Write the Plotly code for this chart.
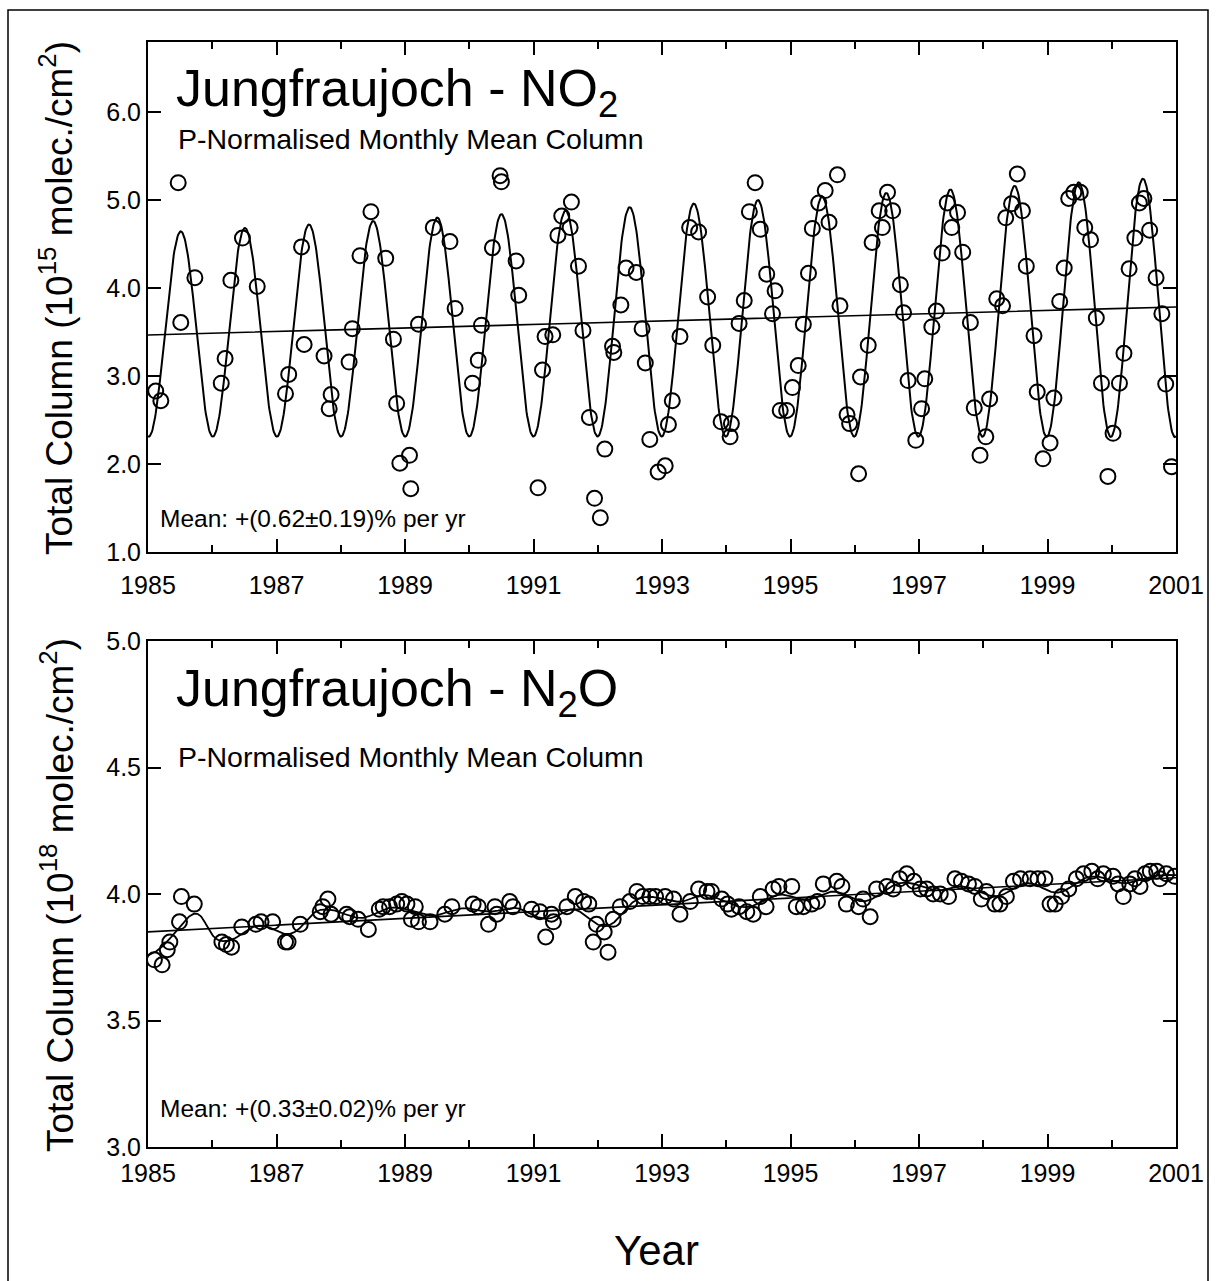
import numpy as np
import plotly.graph_objects as go

# ---------------- data ----------------
no2_year = [1985.12, 1985.20, 1985.47, 1985.51, 1985.73, 1986.14, 1986.20, 1986.29, 1986.47, 1986.70,
            1987.14, 1987.19, 1987.39, 1987.43, 1987.74, 1987.82, 1987.85, 1988.13, 1988.18, 1988.30,
            1988.47, 1988.70, 1988.82, 1988.87, 1988.92, 1989.07, 1989.09, 1989.21, 1989.44, 1989.70,
            1989.78, 1990.05, 1990.14, 1990.19, 1990.36, 1990.48, 1990.50, 1990.73, 1990.77, 1991.07,
            1991.14, 1991.18, 1991.30, 1991.38, 1991.44, 1991.57, 1991.59, 1991.70, 1991.77, 1991.87,
            1991.95, 1992.04, 1992.11, 1992.23, 1992.25, 1992.36, 1992.44, 1992.60, 1992.69, 1992.74,
            1992.81, 1992.94, 1993.05, 1993.10, 1993.16, 1993.28, 1993.43, 1993.57, 1993.71, 1993.79,
            1993.92, 1994.06, 1994.08, 1994.20, 1994.28, 1994.36, 1994.45, 1994.53, 1994.63, 1994.72,
            1994.76, 1994.84, 1994.94, 1995.03, 1995.12, 1995.20, 1995.28, 1995.34, 1995.44, 1995.54,
            1995.60, 1995.73, 1995.77, 1995.88, 1995.92, 1996.06, 1996.09, 1996.21, 1996.27, 1996.38,
            1996.43, 1996.51, 1996.59, 1996.71, 1996.76, 1996.83, 1996.95, 1997.04, 1997.09, 1997.20,
            1997.27, 1997.36, 1997.44, 1997.51, 1997.60, 1997.68, 1997.80, 1997.86, 1997.95, 1998.04,
            1998.10, 1998.21, 1998.30, 1998.35, 1998.44, 1998.53, 1998.61, 1998.67, 1998.79, 1998.84,
            1998.93, 1999.04, 1999.10, 1999.19, 1999.26, 1999.33, 1999.41, 1999.51, 1999.58, 1999.67,
            1999.76, 1999.84, 1999.94, 2000.02, 2000.12, 2000.19, 2000.27, 2000.36, 2000.43, 2000.50,
            2000.59, 2000.69, 2000.78, 2000.84, 2000.93]
no2_val = [2.83, 2.72, 5.20, 3.61, 4.12, 2.92, 3.20, 4.09, 4.57, 4.02,
           2.80, 3.02, 4.47, 3.36, 3.23, 2.63, 2.79, 3.16, 3.54, 4.37,
           4.87, 4.34, 3.42, 2.69, 2.01, 2.10, 1.72, 3.59, 4.69, 4.53,
           3.77, 2.92, 3.18, 3.58, 4.46, 5.28, 5.21, 4.31, 3.92, 1.73,
           3.07, 3.45, 3.47, 4.60, 4.82, 4.69, 4.98, 4.25, 3.52, 2.53,
           1.61, 1.39, 2.17, 3.34, 3.27, 3.81, 4.23, 4.18, 3.54, 3.15,
           2.28, 1.91, 1.98, 2.45, 2.72, 3.45, 4.69, 4.64, 3.90, 3.35,
           2.48, 2.31, 2.46, 3.60, 3.86, 4.87, 5.20, 4.67, 4.16, 3.71,
           3.97, 2.61, 2.61, 2.87, 3.12, 3.59, 4.17, 4.68, 4.97, 5.11,
           4.75, 5.29, 3.80, 2.56, 2.46, 1.89, 2.99, 3.35, 4.52, 4.88,
           4.69, 5.09, 4.88, 4.04, 3.72, 2.95, 2.27, 2.63, 2.97, 3.56,
           3.74, 4.40, 4.97, 4.69, 4.86, 4.41, 3.61, 2.64, 2.10, 2.31,
           2.74, 3.88, 3.80, 4.80, 4.96, 5.30, 4.88, 4.25, 3.46, 2.82,
           2.06, 2.24, 2.75, 3.85, 4.23, 5.02, 5.09, 5.09, 4.69, 4.55,
           3.66, 2.92, 1.86, 2.35, 2.92, 3.26, 4.22, 4.57, 4.97, 5.02,
           4.66, 4.12, 3.71, 2.91, 1.97]

n2o_year = [1985.10, 1985.22, 1985.30, 1985.34, 1985.49, 1985.52, 1985.72, 1986.15, 1986.22, 1986.30,
            1986.46, 1986.68, 1986.76, 1986.94, 1987.14, 1987.18, 1987.37, 1987.68, 1987.72, 1987.80,
            1987.85, 1988.09, 1988.14, 1988.27, 1988.43, 1988.60, 1988.66, 1988.76, 1988.87, 1988.95,
            1989.03, 1989.10, 1989.16, 1989.21, 1989.39, 1989.62, 1989.73, 1990.06, 1990.14, 1990.30,
            1990.40, 1990.43, 1990.63, 1990.68, 1990.97, 1991.10, 1991.19, 1991.28, 1991.31, 1991.52,
            1991.65, 1991.78, 1991.86, 1991.93, 1991.98, 1992.10, 1992.16, 1992.24, 1992.35, 1992.50,
            1992.61, 1992.70, 1992.81, 1992.90, 1993.05, 1993.18, 1993.28, 1993.44, 1993.57, 1993.70,
            1993.77, 1993.93, 1994.02, 1994.08, 1994.20, 1994.32, 1994.42, 1994.53, 1994.62, 1994.73,
            1994.82, 1995.02, 1995.09, 1995.20, 1995.33, 1995.42, 1995.51, 1995.72, 1995.80, 1995.87,
            1996.06, 1996.13, 1996.24, 1996.34, 1996.50, 1996.60, 1996.70, 1996.81, 1996.92, 1997.02,
            1997.12, 1997.22, 1997.33, 1997.46, 1997.56, 1997.66, 1997.77, 1997.87, 1997.97, 1998.05,
            1998.18, 1998.26, 1998.36, 1998.47, 1998.58, 1998.73, 1998.85, 1998.96, 1999.04, 1999.12,
            1999.22, 1999.33, 1999.45, 1999.56, 1999.69, 1999.78, 1999.87, 2000.02, 2000.10, 2000.18,
            2000.28, 2000.36, 2000.44, 2000.52, 2000.60, 2000.70, 2000.75, 2000.85, 2000.98]
n2o_val = [3.74, 3.72, 3.78, 3.81, 3.89, 3.99, 3.96, 3.81, 3.80, 3.79,
           3.87, 3.88, 3.89, 3.89, 3.81, 3.81, 3.88, 3.93, 3.95, 3.98,
           3.92, 3.92, 3.91, 3.90, 3.86, 3.94, 3.95, 3.95, 3.96, 3.97,
           3.96, 3.90, 3.95, 3.89, 3.89, 3.92, 3.95, 3.96, 3.95, 3.88,
           3.95, 3.92, 3.97, 3.95, 3.94, 3.93, 3.83, 3.92, 3.89, 3.95,
           3.99, 3.97, 3.96, 3.81, 3.88, 3.85, 3.77, 3.90, 3.95, 3.97,
           4.01, 3.99, 3.99, 3.99, 3.99, 3.98, 3.92, 3.97, 4.02, 4.01,
           4.01, 3.98, 3.96, 3.94, 3.95, 3.93, 3.92, 3.99, 3.95, 4.02,
           4.03, 4.03, 3.95, 3.95, 3.96, 3.97, 4.04, 4.05, 4.03, 3.96,
           3.95, 3.98, 3.91, 4.02, 4.03, 4.02, 4.06, 4.08, 4.05, 4.02,
           4.02, 4.00, 4.00, 3.99, 4.06, 4.05, 4.04, 4.03, 3.98, 4.01,
           3.96, 3.96, 3.99, 4.05, 4.06, 4.06, 4.06, 4.06, 3.96, 3.96,
           3.99, 4.02, 4.06, 4.08, 4.09, 4.06, 4.08, 4.07, 4.04, 3.99,
           4.04, 4.06, 4.03, 4.08, 4.09, 4.09, 4.06, 4.08, 4.07]

year_ticks = [1985, 1987, 1989, 1991, 1993, 1995, 1997, 1999, 2001]

# ---------------- fits derived from the data ----------------
grid = np.linspace(1985, 2001, 1601)

def seasonal_design(years):
    t = np.asarray(years) - 1985.0
    w = 2 * np.pi * t
    return np.column_stack([np.ones_like(t), t, np.cos(w), np.sin(w),
                            t * np.cos(w), t * np.sin(w)])

coef, *_ = np.linalg.lstsq(seasonal_design(no2_year), np.asarray(no2_val), rcond=None)
no2_fit = seasonal_design(grid) @ coef
no2_trend = coef[0] + coef[1] * (grid - 1985.0)

ny = np.asarray(n2o_year)
nv = np.asarray(n2o_val)
p = np.polyfit(ny, nv, 1)
n2o_trend = np.polyval(p, grid)
sig = 0.2
wts = np.exp(-0.5 * ((grid[:, None] - ny[None, :]) / sig) ** 2)
n2o_smooth = (wts @ nv) / wts.sum(axis=1)

# ---------------- figure ----------------
FONT = "Arial, Liberation Sans, sans-serif"
fig = go.Figure()

marker = dict(symbol="circle-open", size=15, color="black", line=dict(color="black", width=2))

fig.add_trace(go.Scatter(x=grid, y=no2_trend, mode="lines", line=dict(color="black", width=1.6),
                         xaxis="x", yaxis="y", showlegend=False, hoverinfo="skip"))
fig.add_trace(go.Scatter(x=grid, y=no2_fit, mode="lines", line=dict(color="black", width=2),
                         xaxis="x", yaxis="y", showlegend=False, hoverinfo="skip"))
fig.add_trace(go.Scatter(x=no2_year, y=no2_val, mode="markers", marker=marker,
                         xaxis="x", yaxis="y", showlegend=False))

fig.add_trace(go.Scatter(x=grid, y=n2o_trend, mode="lines", line=dict(color="black", width=1.6),
                         xaxis="x2", yaxis="y2", showlegend=False, hoverinfo="skip"))
fig.add_trace(go.Scatter(x=grid, y=n2o_smooth, mode="lines", line=dict(color="black", width=1.8),
                         xaxis="x2", yaxis="y2", showlegend=False, hoverinfo="skip"))
fig.add_trace(go.Scatter(x=n2o_year, y=n2o_val, mode="markers", marker=marker,
                         xaxis="x2", yaxis="y2", showlegend=False))

L, R, T, B = 148, 40, 42, 134
W, H = 1216, 1281
PW, PH = W - L - R, H - T - B

def py(pix):  # pixel y -> paper y
    return (H - B - pix) / PH

def px(pix):
    return (pix - L) / PW

xcommon = dict(range=[1985, 2001], tickmode="array", tickvals=year_ticks, ticks="inside",
               ticklen=13, tickwidth=2, tickcolor="black", showline=True, linewidth=2,
               linecolor="black", mirror="ticks", showgrid=False, zeroline=False,
               tickfont=dict(family=FONT, size=25, color="black"),
               minor=dict(dtick=1, tick0=1985, ticks="inside", ticklen=7, tickwidth=2,
                          tickcolor="black", showgrid=False))
ycommon = dict(ticks="inside", ticklen=13, tickwidth=2, tickcolor="black", showline=True,
               linewidth=2, linecolor="black", mirror="ticks", showgrid=False, zeroline=False,
               tickformat=".1f", tickfont=dict(family=FONT, size=25, color="black"))

fig.update_layout(
    width=W, height=H, paper_bgcolor="white", plot_bgcolor="white",
    margin=dict(l=L, r=R, t=T, b=B),
    showlegend=False,
    xaxis=dict(domain=[0, 1], anchor="y", ticklabelstandoff=10, **xcommon),
    yaxis=dict(domain=[py(552), 1], anchor="x", range=[1.0, 6.8], dtick=1, tick0=1, **ycommon),
    xaxis2=dict(domain=[0, 1], anchor="y2", ticklabelstandoff=3, **xcommon),
    yaxis2=dict(domain=[0, py(641)], anchor="x2", range=[3.0, 5.0], dtick=0.5, tick0=3, **ycommon),
)

ann = []
def add_text(text, x, y, size, xanchor="left", angle=0):
    ann.append(dict(text=text, x=x, y=y, xref="paper", yref="paper", xanchor=xanchor,
                    yanchor="middle", showarrow=False, textangle=angle,
                    font=dict(family=FONT, size=size, color="black")))

add_text("Jungfraujoch - NO<sub>2</sub>", px(174), py(92), 52)
add_text("P-Normalised Monthly Mean Column", px(176), py(139), 28.5)
add_text("Mean: +(0.62±0.19)% per yr", px(158), py(518), 24.5)
add_text("Jungfraujoch - N<sub>2</sub>O", px(174), py(692), 52)
add_text("P-Normalised Monthly Mean Column", px(176), py(757), 28.5)
add_text("Mean: +(0.33±0.02)% per yr", px(158), py(1108), 24.5)
add_text("Total Column (10<sup>15</sup> molec./cm<sup>2</sup>)", px(57), py(298), 37, "center", -90)
add_text("Total Column (10<sup>18</sup> molec./cm<sup>2</sup>)", px(57), py(895), 37, "center", -90)
add_text("Year", px(656), py(1250), 42, "center")
fig.update_layout(annotations=ann)

fig.add_shape(type="rect", xref="paper", yref="paper", x0=px(8), x1=px(1208), y0=py(1295), y1=py(10),
              line=dict(color="black", width=1.5), fillcolor="rgba(0,0,0,0)", layer="below")

fig.write_html("out.html", config={"displayModeBar": False},
               post_script="document.body.style.margin='0';document.body.style.overflow='hidden';")
